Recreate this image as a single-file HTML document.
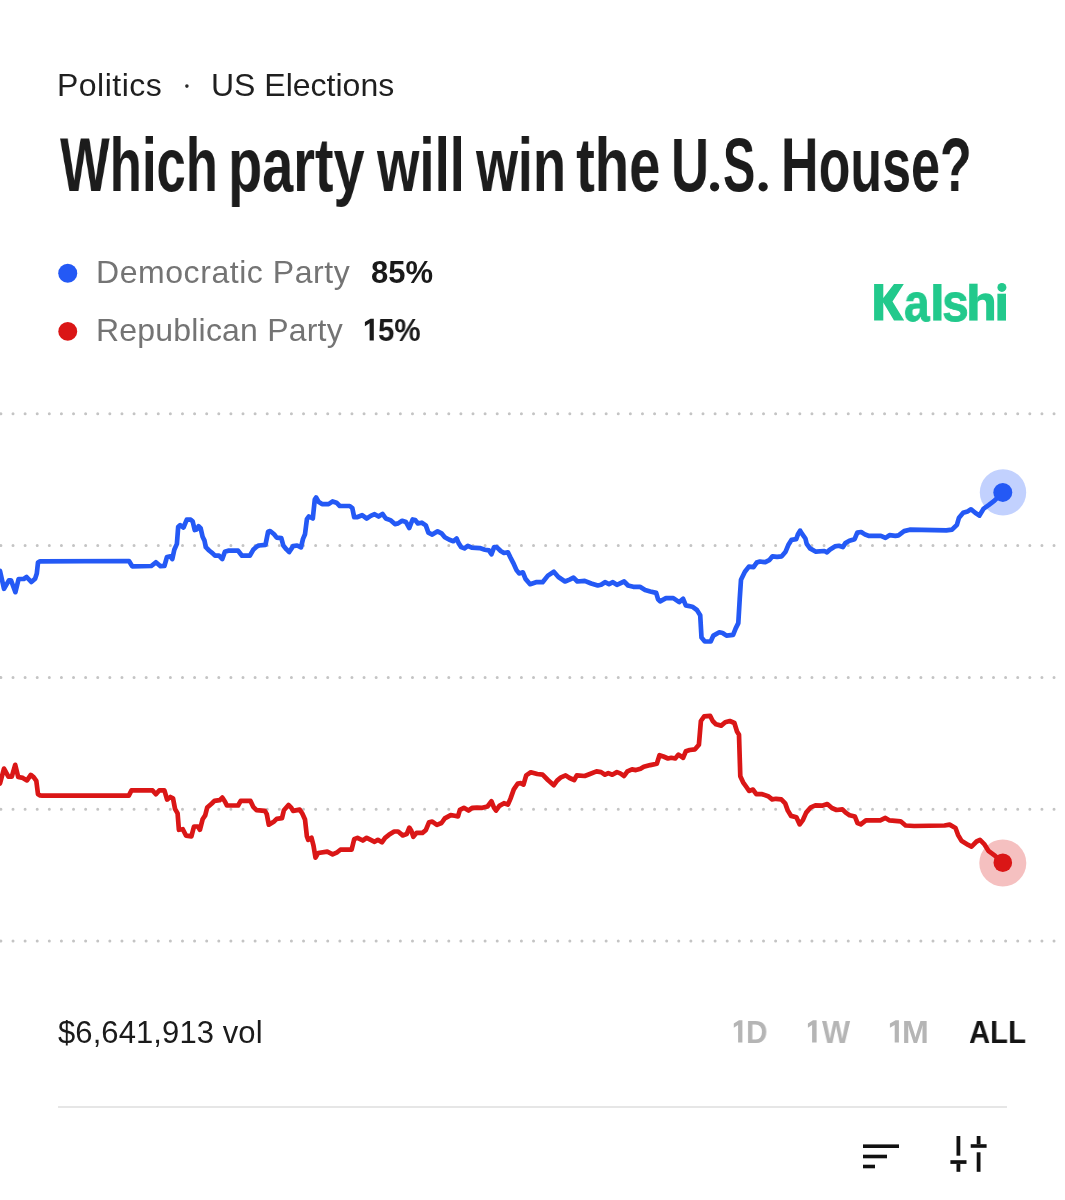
<!DOCTYPE html>
<html><head><meta charset="utf-8"><style>
html,body{margin:0;padding:0;background:#fff;width:1065px;height:1200px;overflow:hidden;}
body{position:relative;font-family:"Liberation Sans",sans-serif;}
.t{position:absolute;white-space:pre;line-height:1;transform-origin:0 0;will-change:transform;}
.tt{top:126.7px;font-size:76px;font-weight:700;color:#1c1c1c;}
.kk{top:274.8px;font-size:54px;font-weight:700;color:#22c98c;-webkit-text-stroke:0.8px #22c98c;}
.rr{top:1015.5px;font-size:32px;font-weight:700;}
</style></head><body>
<div class="t" style="left:57.2px;top:69.4px;font-size:32px;color:#1f1f1f;letter-spacing:0.48px">Politics</div>
<svg style="position:absolute;left:0;top:0" width="1065" height="1200">
<circle cx="186.9" cy="86.1" r="1.8" fill="#2a2a2a"/>
</svg>
<div class="t" style="left:210.5px;top:69.4px;font-size:32px;color:#1f1f1f;letter-spacing:0px">US Elections</div>
<div class="t tt" style="left:60.30px;transform:scaleX(0.6928)">Which</div>
<div class="t tt" style="left:228.02px;transform:scaleX(0.7350)">party</div>
<div class="t tt" style="left:376.90px;transform:scaleX(0.7171)">will</div>
<div class="t tt" style="left:475.90px;transform:scaleX(0.7098)">win</div>
<div class="t tt" style="left:576.16px;transform:scaleX(0.7400)">the</div>
<div class="t tt" style="left:781.48px;transform:scaleX(0.6844)">House?</div>
<div class="t tt" style="left:671.44px;transform:scaleX(0.6911)">U</div>
<div class="t tt" style="left:722.79px;transform:scaleX(0.6356)">S</div>
<svg style="position:absolute;left:0;top:0" width="1065" height="1200"><circle cx="714.6" cy="186.8" r="4.6" fill="#1c1c1c"/><circle cx="763.15" cy="186.8" r="4.6" fill="#1c1c1c"/></svg>

<svg style="position:absolute;left:0;top:0" width="1065" height="1200">
<circle cx="67.75" cy="273.3" r="9.5" fill="#2459f5"/>
<circle cx="67.75" cy="331.4" r="9.45" fill="#da1616"/>
<line x1="0.9" y1="413.7" x2="1060" y2="413.7" stroke="#c4c4c4" stroke-width="3.0" stroke-linecap="round" stroke-dasharray="0 12.105"/>
<line x1="0.9" y1="545.5" x2="1060" y2="545.5" stroke="#c4c4c4" stroke-width="3.0" stroke-linecap="round" stroke-dasharray="0 12.105"/>
<line x1="0.9" y1="677.4" x2="1060" y2="677.4" stroke="#c4c4c4" stroke-width="3.0" stroke-linecap="round" stroke-dasharray="0 12.105"/>
<line x1="0.9" y1="809.2" x2="1060" y2="809.2" stroke="#c4c4c4" stroke-width="3.0" stroke-linecap="round" stroke-dasharray="0 12.105"/>
<line x1="0.9" y1="941.1" x2="1060" y2="941.1" stroke="#c4c4c4" stroke-width="3.0" stroke-linecap="round" stroke-dasharray="0 12.105"/>
<polyline points="0,571 4,588.8 8.9,580.3 11,580.3 15.4,592.2 18.6,579 23.7,579 26.6,577 31.3,582 35.1,578.7 36.8,573.6 38,562.6 40.1,561.3 129,561 132.2,566.3 151.3,566 155.9,562.3 160.5,566.2 164.4,566 167,557 170.4,556.4 172.3,559 174.3,549.8 176.9,543.9 178.2,526.8 180.2,525.2 183.5,527.5 186.8,519.6 190.7,519.6 192.7,521.5 194.7,530 196.6,529.4 198.6,526.2 200.6,528.1 202.6,536.7 204.5,540.6 205.8,547.2 209.1,550.5 212.4,553.1 215,555.7 219,555.7 222.3,559 224.9,551.8 228.2,550.7 238.1,550.7 242,555.7 249.9,555.7 253.2,549.8 257.1,546.3 258.9,545.5 265.5,544.8 268.1,531.7 270.1,531 274.1,534.3 276.7,537.6 281.3,538.2 283.3,545.5 286.5,549.4 289.2,552 293.1,546.1 297.1,545.5 301,547.4 303,538.9 305,534.3 306.9,519.2 308.9,516.5 312.8,518.5 314.8,499.5 316.1,497.5 318.8,502.1 322,504.1 328.6,504.1 332.6,501.4 336.5,502.7 339.8,506 349.7,506 352.3,508 354.2,517.2 356.9,517.2 362.1,515.2 366.7,518.5 370.7,515.9 374.6,514.2 378.6,516.5 382.5,513.9 385.8,518.5 390.3,520.1 394.9,524.1 398.1,523.4 402.1,520.8 406,522.1 409.3,528 412.6,519.5 415.2,520.1 417.9,523.4 421.8,522.7 425.8,525.4 428.4,532.6 432.3,534.6 437.6,531.3 441.5,533.3 444.8,537.2 449.4,539.8 453.4,541.2 456.6,538.5 458.6,543.1 461.2,547.1 464.5,548.4 467.8,545.8 471.8,547.7 479.7,548.1 484.9,549.7 488.9,550.4 491.5,554.3 494.1,547.1 496.7,547.1 500.7,551 504,553 507.9,552.3 510.5,557.6 513.2,562.8 516.5,570.1 519.1,573.4 522.9,572.3 525.5,578.9 530.1,584.2 536,582.2 542.6,582.2 547.9,575.6 553.8,571.7 558.4,577 565,581.5 569.6,579.6 573.5,577.6 577.4,581.5 584.7,580.9 591.2,583.5 597.8,585.5 601.1,584.8 605,582.2 609,584.2 612.9,582.2 616.9,584.8 624.1,581.5 628.1,585.5 633.3,586.8 639.9,586.8 645.1,590.1 650.3,591.5 656.2,592.9 658.1,599.4 660.1,601.4 666,598.1 673.3,598.1 679.2,602.1 683.1,598.8 685.8,605.4 692.3,606.7 696.9,610 700.2,615.2 701.5,637.6 704.8,641.5 710.7,641.5 713.4,635.6 719.3,632.3 722.6,633 726.5,635.6 733.1,634.9 735.7,628.4 738.3,623.1 739.7,599.4 741,579.7 744.9,571.8 748.9,566.6 753.5,567.2 756.7,562.6 760,561.5 765.3,562.2 769.2,560.2 772.5,556.3 777.1,556.9 781.7,556.3 785.6,551.7 788.3,545.1 791.6,539.8 796.2,539.2 798.1,533.9 800.1,530.6 802.1,533.9 805.4,538.5 806.7,543.8 810,548.4 815.9,551.7 824.4,551 827,552.3 829.7,549.7 834.9,546.4 838.9,545.8 842.8,547.1 845.4,543.1 849.4,540.8 854.6,539.2 857.3,532.6 861.2,532 865.2,534.6 869.1,535.9 880.9,535.9 885.5,537.9 889.5,535.2 895.4,535.9 898.5,535.4 904.1,531.1 909.7,529.7 946.3,530.4 952,529.7 956.9,524.8 959,517.7 963.2,512.8 967.5,511.4 971,509.3 975.2,512.8 979.4,515.6 983.7,508.6 988.6,505.1 994.2,500.8 1002.7,492.4" fill="none" stroke="#2459f5" stroke-width="4.7" stroke-linejoin="round" stroke-linecap="round"/>
<polyline points="0,783.5 4,768.6 8.4,776.6 11.8,776.6 15.2,764.8 18.2,777 22.8,777.9 27,780.4 30.8,774.9 33.8,777.4 36.3,780.8 38,794.3 40,795.4 42.1,795.6 128.8,795.6 131.5,790.4 134.1,790.4 152.6,790.4 155.9,794.3 159.2,790.4 164.4,790.4 167.1,799.6 170.4,797 173,798.3 175,808.8 177.6,813.4 178.9,829.8 182.8,829.2 186.1,835.7 191.4,836.4 194,826.5 198,826.5 199.9,829.8 202.6,819.3 205.2,815.4 207.2,807.5 211.8,803.5 214.4,800.9 219.6,800.2 222.3,797.6 224.9,801.5 226.9,805.5 238.1,805.5 240.7,800.9 250.5,800.9 253.2,806.8 256.5,810.1 264.9,810.9 266.8,814.2 268.8,824.7 274.1,821.4 276.7,818.8 282,818.1 283.9,810.2 288.5,805 291.2,807.6 293.1,810.9 299.7,809.6 302.3,813.5 305,819.4 306.9,836.5 308.2,839.8 311.5,837.8 313.5,845.7 315.5,857.6 318.1,853 327.3,851.6 332.6,854.3 337.2,852.3 340.4,849.7 351.6,849.7 354.2,839.2 357.5,837.8 362.8,840.5 366.7,837.8 370.7,839.8 374.6,841.8 377.9,839.8 381.9,842.4 385.1,837.8 388.9,834.8 394.2,831.5 398.1,831.5 402.7,835.4 406.7,834.1 409.3,827.6 411.3,830.8 413.3,836.8 416.6,832.8 422.5,832.8 425.8,830.2 429,822.3 432.3,821.6 436.9,824.9 441.5,823 444.8,818.4 450.7,815.1 454.7,815.7 458,816.4 459.9,809.8 463.9,807.8 468.5,810.5 472.4,807.8 477,807.6 482.3,807.8 487.5,806.5 491.5,801.3 494.1,807.8 496.1,810.5 499.4,805.9 504,803.2 507.9,804.6 510.5,798.6 513.8,789.4 517.8,783.5 520.9,783.2 523.5,784.6 526.2,775.4 530.8,772.3 537.3,774 542.6,774.7 547.9,780 553.8,785.2 557.1,780.6 561,777.3 565.6,775.4 569.6,778 574.2,780 576.8,775.4 584.7,776 589.9,774 596.5,771.4 601.1,772.1 605,774.7 608.3,773.1 612.3,774.7 616.9,772.1 620.2,773.4 624.1,776 627.4,771.4 632,769.4 635.9,770.1 640.5,768.8 643.8,766.8 650.3,765.1 656.8,763.8 659.5,755.2 663.4,756.5 668,758.5 671.3,757.8 675.2,758.5 678.5,754.6 683.1,757.8 685.8,751.3 689.7,750 695,749.3 698.9,744.7 700.9,721 704.2,716.4 710.1,715.8 712.7,721 716,724.3 721.2,725.6 725.2,722.3 729.8,721 734.4,723 737,731.5 739,734.8 740.3,776.2 743.1,782.3 746.4,787 749.1,790.9 753,789.6 756.3,794.2 762.2,794.2 768.1,796.2 772.1,799.4 776,798.8 781.3,799.4 785.2,803.4 787.8,810.6 791.1,815.9 796.4,817.2 799.7,824.4 803,819.8 806.2,812.6 810.8,807.3 815.4,805.4 822,805.7 827.3,804 831.9,808 836.5,810 842.4,809.3 845.7,812.6 849.6,815.2 854.9,816.5 857.5,823.1 860.8,824.4 865.9,820.4 880.3,820.4 885.4,817.9 889.6,820.4 900.6,821.3 905.6,825.5 914.1,826 944.5,825.5 949.6,824.6 955.5,828 958,834.8 961.4,840.7 968.2,844.9 971.5,846.6 976.6,841.5 980,839.9 984.2,844.1 988.4,850.8 995.2,855.9 1002.8,862.7" fill="none" stroke="#da1616" stroke-width="4.7" stroke-linejoin="round" stroke-linecap="round"/>
<circle cx="1003" cy="492.4" r="23.2" fill="#245afa" fill-opacity="0.28"/>
<circle cx="1002.8" cy="492.4" r="9.5" fill="#2459f5"/>
<circle cx="1002.8" cy="863" r="23.5" fill="#da1616" fill-opacity="0.27"/>
<circle cx="1002.8" cy="862.7" r="9.3" fill="#da1616"/>
<rect x="58" y="1106" width="949" height="2" fill="#e6e6e6"/>
<g fill="#111">
<rect x="863" y="1144.4" width="36" height="3.6"/>
<rect x="863" y="1154.7" width="24" height="3.6"/>
<rect x="863" y="1164.7" width="12" height="3.6"/>
<rect x="956.5" y="1136" width="3.8" height="19.7"/>
<rect x="950.4" y="1160.2" width="16.1" height="3.7"/>
<rect x="956.5" y="1163.9" width="3.8" height="7.9"/>
<rect x="976.7" y="1136" width="3.8" height="8.2"/>
<rect x="970.7" y="1144.2" width="15.9" height="3.6"/>
<rect x="976.7" y="1152.3" width="3.8" height="19.5"/>
</g>
</svg>
<div class="t" style="left:96.3px;top:255.9px;font-size:32px;color:#747474;letter-spacing:0.56px">Democratic Party</div>
<div class="t" style="left:370.8px;top:256.9px;font-size:31px;font-weight:700;color:#1a1a1a">85%</div>
<div class="t" style="left:96.2px;top:314px;font-size:32px;color:#747474;letter-spacing:0.2px">Republican Party</div>
<div class="t" style="left:377.55px;top:314.9px;font-size:31px;font-weight:700;color:#1a1a1a;transform:scaleX(0.949)">5%</div>
<div class="t kk" style="left:904.04px;transform:scaleX(0.8507)">a</div>
<div class="t kk" style="left:942.07px;transform:scaleX(0.8918)">s</div>
<svg style="position:absolute;left:0;top:0" width="1065" height="1200"><g fill="#22c98c">
<polygon points="874.1,283.9 883.3,283.9 883.3,298 894,283.9 903.8,283.9 892.5,301.4 904.2,320.6 894,320.6 883.3,302.5 883.3,320.6 874.1,320.6"/>
<rect x="933.2" y="284" width="8.3" height="36.6"/>
<rect x="969.2" y="283.7" width="8.4" height="36.9"/>
<path d="M 977.2 297.4 C 979.6 294.6, 982.5 293.2, 985.7 293.2 C 991 293.2, 994.1 296.5, 994.1 301.8 L 994.1 320.6 L 986.2 320.6 L 986.2 304 C 986.2 301.3, 984.8 299.8, 982.7 299.8 C 980 299.8, 977.6 301.5, 977.2 303.6 Z"/>
<rect x="997.4" y="293.7" width="8.6" height="26.9"/>
<circle cx="1001.9" cy="287.4" r="4.5"/>
</g></svg>

<div class="t" style="left:58.4px;top:1016.5px;font-size:31px;color:#1b1b1b;letter-spacing:0.09px">$6,641,913 vol</div>
<svg style="position:absolute;left:0;top:0" width="1065" height="1200"><polygon fill="#b5b5b5" points="733.80,1023.58 739.00,1020.20 742.40,1020.20 742.40,1042.60 738.10,1042.60 738.10,1024.91 733.80,1027.87"/><polygon fill="#b5b5b5" points="807.90,1023.58 813.00,1020.20 816.60,1020.20 816.60,1042.60 812.10,1042.60 812.10,1024.91 807.90,1027.87"/><polygon fill="#b5b5b5" points="889.90,1023.58 895.60,1020.20 898.90,1020.20 898.90,1042.60 894.70,1042.60 894.70,1024.91 889.90,1027.87"/><polygon fill="#1a1a1a" points="364.90,322.00 370.50,318.70 373.80,318.70 373.80,340.60 369.60,340.60 369.60,323.30 364.90,326.20"/></svg>
<div class="t rr" style="left:746.14px;color:#b5b5b5;transform:scaleX(0.9300)">D</div>
<div class="t rr" style="left:821.70px;color:#b5b5b5;transform:scaleX(0.9300)">W</div>
<div class="t rr" style="left:902.49px;color:#b5b5b5;transform:scaleX(1.0043)">M</div>
<div class="t rr" style="left:968.99px;color:#141414;transform:scaleX(0.9150)">ALL</div>

</body></html>
